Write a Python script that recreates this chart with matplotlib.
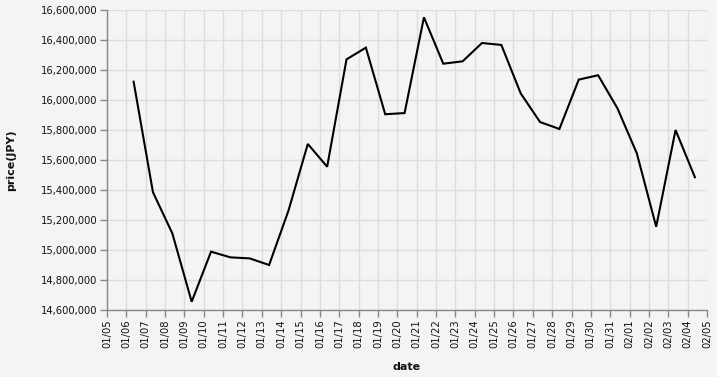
import pandas as pd
import numpy as np
import matplotlib
matplotlib.use('Agg')
import matplotlib.pyplot as plt
import matplotlib.dates as mdates
from matplotlib.ticker import FuncFormatter

# daily closing price, 01/06 .. 02/04 (points sit at 09:00 local time)
dates = pd.date_range('2021-01-06 09:00', periods=30, freq='D')
prices = [16122000, 15385000, 15111000, 14655000, 14989000, 14951000, 14944000,
          14900000, 15262000, 15707000, 15555000, 16271000, 16349000, 15905000,
          15913000, 16551000, 16242000, 16258000, 16380000, 16367000, 16044000,
          15853000, 15807000, 16136000, 16165000, 15944000, 15644000, 15155000,
          15800000, 15485000]

x_ticks = pd.date_range('2021-01-05', '2021-02-05', freq='D')
y_ticks = np.arange(14600000, 16600001, 200000)

bg = '#f4f4f4'
grid = '#dddddd'
domain = '#888888'

fig = plt.figure(figsize=(7.17, 3.77), dpi=100, facecolor=bg)
ax = fig.add_axes([107/717, 67/377, 600/717, 300/377], facecolor=bg)

ax.plot(dates, prices, color='black', linewidth=1.5, solid_joinstyle='miter', zorder=3)

ax.set_xlim(x_ticks[0], x_ticks[-1])
ax.set_ylim(14600000, 16600000)
ax.set_xticks(x_ticks)
ax.xaxis.set_major_formatter(mdates.DateFormatter('%m/%d'))
ax.set_yticks(y_ticks)
ax.yaxis.set_major_formatter(FuncFormatter(lambda v, p: f'{int(v):,}'))

ax.grid(True, color=grid, linewidth=1, zorder=0)
ax.set_axisbelow(True)
for s in ['top', 'right']:
    ax.spines[s].set_visible(False)
for s in ['left', 'bottom']:
    ax.spines[s].set_color(domain)
    ax.spines[s].set_linewidth(1)

ax.tick_params(axis='both', colors=domain, length=5, width=1, labelcolor='#111111', labelsize=7.2, pad=2)
plt.setp(ax.get_xticklabels(), rotation=90)

ax.set_xlabel('date', fontsize=8, fontweight='bold', color='#111111', labelpad=10)
ax.set_ylabel('price(JPY)', fontsize=8, fontweight='bold', color='#111111', labelpad=18)

fig.savefig('out.png', dpi=100, facecolor=bg)
